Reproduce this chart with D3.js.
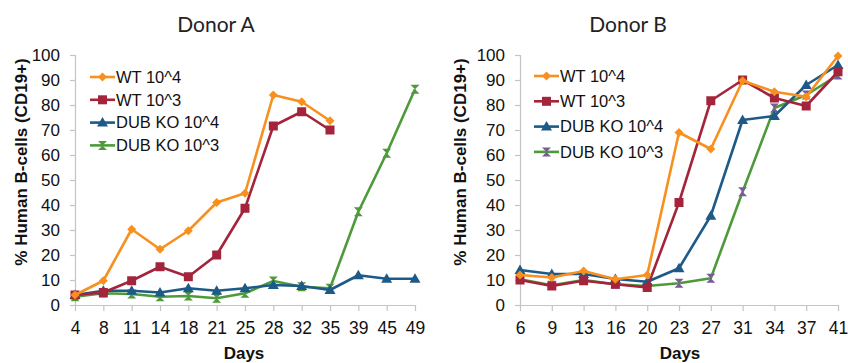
<!DOCTYPE html>
<html>
<head>
<meta charset="utf-8">
<script src="https://cdn.jsdelivr.net/npm/d3@7"></script>
<style>
  body { margin: 0; background: #fff; }
  svg { display: block; }
  .axis path, .axis line { stroke: #c4c4c4; stroke-width: 1.2; }
  .axis text { font-family: "Liberation Sans", Arial, sans-serif; fill: #111; }
</style>
</head>
<body>
<svg id="chart" width="848" height="363"></svg>
<script>
"use strict";

// Donor A
var days_a = [4, 8, 11, 14, 18, 21, 25, 28, 32, 35, 39, 45, 49];
var a_wt4 = [4, 9.7, 30.3, 22.3, 29.7, 41, 44.7, 84, 81.3, 73.7];
var a_wt3 = [4, 5, 9.7, 15.3, 11.3, 20, 38.7, 71.6, 77.3, 70];
var a_ko4 = [4, 5.7, 5.7, 5, 6.7, 5.7, 6.7, 8, 7.6, 6, 11.9, 10.5, 10.5];
var a_ko3 = [3.3, 4.7, 4.4, 3.3, 3.6, 2.7, 4.7, 9.6, 7.3, 6.7, 37.3, 60.7, 86.3];

// Donor B
var days_b = [6, 9, 13, 16, 20, 23, 27, 31, 34, 37, 41];
var b_wt4 = [12, 11, 13.6, 10.3, 12, 69, 62.4, 89.7, 85.3, 83.3, 99.6];
var b_wt3 = [10, 7.6, 9.7, 8.3, 7, 41, 81.7, 90, 82.8, 79.6, 93.3];
var b_ko4 = [14, 12.4, 12.4, 10.4, 9.3, 14.7, 35.7, 74, 75.6, 88, 96];
var b_ko3 = [10.3, 7.9, 10, 8.3, 7.6, 8.7, 10.7, 45.3, 78.8, 84, 92];

var series_names = ["WT 10^4", "WT 10^3", "DUB KO 10^4", "DUB KO 10^3"];
var y_ticks = [0, 10, 20, 30, 40, 50, 60, 70, 80, 90, 100];

var svg = d3.select("#chart");

svg.append("rect")
  .attr("width", 848)
  .attr("height", 363)
  .attr("fill", "#fff");

// marker shapes, centred on 0,0
function markerPath(kind) {
  if (kind === "diamond") {
    return "M0,-4.5L4.5,0L0,4.5L-4.5,0Z";
  }
  if (kind === "square") {
    return "M-4.5,-4.5H4.5V4.5H-4.5Z";
  }
  if (kind === "triangle") {
    return "M0,-5.5L5.5,4L-5.5,4Z";
  }
  return "M-4.5,-4.5H4.5L-4.5,4.5H4.5Z"; // hourglass
}

function drawPanel(opts) {
  var g = svg.append("g");

  var x = d3.scalePoint()
    .domain(opts.days)
    .range([opts.x0, opts.x1])
    .padding(0);

  var y = d3.scaleLinear()
    .domain([0, 100])
    .range([305, 55]);

  // axes
  var y_axis = g.append("g")
    .attr("class", "axis")
    .attr("transform", "translate(" + opts.x0 + ",0)")
    .call(d3.axisLeft(y).tickValues(y_ticks).tickSize(5).tickPadding(10));
  y_axis.selectAll("text").style("font-size", "17px");

  var x_axis = g.append("g")
    .attr("class", "axis")
    .attr("transform", "translate(0,305)")
    .call(d3.axisBottom(x).tickSize(6).tickPadding(11));
  x_axis.selectAll("text").style("font-size", "17.5px");
  x_axis.select(".domain").attr("d", "M" + opts.x0 + ",0.5H" + opts.x1);

  // title
  g.append("text")
    .attr("x", opts.title_x)
    .attr("y", 32)
    .attr("text-anchor", "middle")
    .style("font-family", "Lato, sans-serif")
    .style("font-size", "21px")
    .style("fill", "#222")
    .text(opts.title);

  g.append("text")
    .attr("x", opts.label_x)
    .attr("y", 359)
    .attr("text-anchor", "middle")
    .style("font-family", "Liberation Sans, Arial, sans-serif")
    .style("font-weight", "bold")
    .style("font-size", "17px")
    .style("fill", "#111")
    .text("Days");

  g.append("text")
    .attr("transform", "translate(" + opts.ytitle_x + ",162) rotate(-90)")
    .attr("text-anchor", "middle")
    .style("font-family", "Liberation Sans, Arial, sans-serif")
    .style("font-weight", "bold")
    .style("font-size", "17px")
    .style("fill", "#111")
    .text("% Human B-cells (CD19+)");

  var line = d3.line()
    .x(function (d, i) { return x(opts.days[i]); })
    .y(function (d) { return y(d); });

  // draw back to front so the first series stays on top
  opts.series.slice().reverse().forEach(function (s) {
    var sg = g.append("g");
    sg.append("path")
      .attr("d", line(s.values))
      .attr("fill", "none")
      .attr("stroke", s.color)
      .attr("stroke-width", 2.6)
      .attr("stroke-linejoin", "round");

    sg.selectAll(".mark")
      .data(s.values)
      .enter()
      .append("path")
      .attr("class", "mark")
      .attr("transform", function (d, i) {
        return "translate(" + x(opts.days[i]) + "," + y(d) + ")";
      })
      .attr("d", markerPath(s.marker))
      .attr("fill", s.marker_color || s.color);
  });

  // legend
  var legend = g.selectAll(".legend")
    .data(opts.series)
    .enter()
    .append("g")
    .attr("class", "legend")
    .attr("transform", function (d, i) {
      return "translate(" + opts.legend_x + "," + (opts.legend_y + i * opts.legend_step) + ")";
    });

  legend.append("line")
    .attr("x1", 0)
    .attr("x2", 25)
    .attr("stroke", function (d) { return d.color; })
    .attr("stroke-width", 2.6);

  legend.append("path")
    .attr("transform", "translate(12.5,0)")
    .attr("d", function (d) { return markerPath(d.marker); })
    .attr("fill", function (d) { return d.marker_color || d.color; });

  legend.append("text")
    .attr("x", 26)
    .attr("dy", "0.35em")
    .style("font-family", "Liberation Sans, Arial, sans-serif")
    .style("font-size", "16.5px")
    .style("fill", "#111")
    .text(function (d) { return d.name; });
}

var orange = "#f7901e",
  red = "#a3243b",
  blue = "#1e5a87",
  green = "#4e9a3a";

drawPanel({
  title: "Donor A",
  title_x: 216,
  label_x: 244,
  ytitle_x: 27,
  x0: 75,
  x1: 415,
  days: days_a,
  legend_x: 90,
  legend_y: 77,
  legend_step: 22.8,
  series: [
    { name: series_names[0], values: a_wt4, color: orange, marker: "diamond" },
    { name: series_names[1], values: a_wt3, color: red, marker: "square" },
    { name: series_names[2], values: a_ko4, color: blue, marker: "triangle" },
    { name: series_names[3], values: a_ko3, color: green, marker: "hourglass" }
  ]
});

drawPanel({
  title: "Donor B",
  title_x: 628,
  label_x: 680,
  ytitle_x: 466,
  x0: 520,
  x1: 838,
  days: days_b,
  legend_x: 534,
  legend_y: 76,
  legend_step: 25.3,
  series: [
    { name: series_names[0], values: b_wt4, color: orange, marker: "diamond" },
    { name: series_names[1], values: b_wt3, color: red, marker: "square" },
    { name: series_names[2], values: b_ko4, color: blue, marker: "triangle" },
    { name: series_names[3], values: b_ko3, color: green, marker: "hourglass", marker_color: "#7a5a9a" }
  ]
});
</script>
</body>
</html>
